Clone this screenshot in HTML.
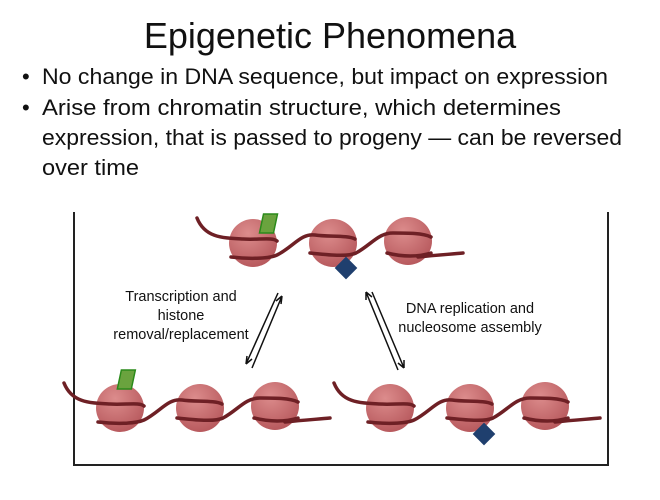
<!DOCTYPE html><html><head><style>
body{margin:0;background:#fff;width:660px;height:495px;overflow:hidden;font-family:"Liberation Sans",sans-serif}
</style></head><body>
<svg width="660" height="495" viewBox="0 0 660 495" xmlns="http://www.w3.org/2000/svg">
<defs>
<radialGradient id="g" cx="0.4" cy="0.3" r="0.7"><stop offset="0" stop-color="#dc8c8c"/><stop offset="1" stop-color="#b85a5e"/></radialGradient>
<g id="chain">
<circle cx="0" cy="0" r="24" fill="url(#g)"/>
<circle cx="80" cy="0" r="24" fill="url(#g)"/>
<circle cx="155" cy="-2" r="24" fill="url(#g)"/>
<g fill="none" stroke="#6e2025" stroke-width="3.5" stroke-linecap="round">
<path d="M-56,-25 C-48,-5 -30,-5 -10,-4 C5,-3 20,-6 24,-2"/>
<path d="M-22,14 C-5,16 15,16 24,12 C40,4 48,-10 62,-8 C75,-6 95,-8 102,-4"/>
<path d="M57,10 C75,12 95,14 103,10 C118,2 125,-10 140,-10 C155,-10 170,-10 178,-6"/>
<path d="M134,10 C150,14 165,14 178,10 M165,14 C185,12 200,11 210,10"/>
</g>
</g>
</defs>
<text x="330" y="48" font-size="36" text-anchor="middle" fill="#111">Epigenetic Phenomena</text>
<g font-size="22" fill="#111" lengthAdjust="spacingAndGlyphs">
<text x="22" y="84">•</text><text x="42" y="84" textLength="566" lengthAdjust="spacingAndGlyphs">No change in DNA sequence, but impact on expression</text>
<text x="22" y="115">•</text><text x="42" y="115" textLength="519" lengthAdjust="spacingAndGlyphs">Arise from chromatin structure, which determines</text>
<text x="42" y="145" textLength="580" lengthAdjust="spacingAndGlyphs">expression, that is passed to progeny — can be reversed</text>
<text x="42" y="175" textLength="97" lengthAdjust="spacingAndGlyphs">over time</text>
</g>
<path d="M74,212 V465 H608 V212" fill="none" stroke="#222" stroke-width="2"/>
<use href="#chain" x="253" y="243"/>
<use href="#chain" x="120" y="408"/>
<use href="#chain" x="390" y="408"/>
<rect x="259" y="214" width="14" height="19" fill="#6aa33e" stroke="#2a8a1a" stroke-width="1.5" transform="skewX(-12) translate(50,0)"/>
<rect x="120" y="370" width="14" height="19" fill="#6aa33e" stroke="#2a8a1a" stroke-width="1.5" transform="skewX(-12) translate(80,0)"/>
<rect x="338" y="260" width="16" height="16" fill="#1f3f6e" transform="rotate(45 346 268)"/>
<rect x="476" y="426" width="16" height="16" fill="#1f3f6e" transform="rotate(45 484 434)"/>
<g stroke="#111" stroke-width="1.5" fill="none">
<path d="M282,296 L252,368 M278,293 L246,364 M282,296 l-1,8 M282,296 l-6,5 M246,364 l1,-8 M246,364 l6,-5"/>
<path d="M366,292 L398,370 M372,292 L404,368 M366,292 l0,8 M366,292 l6,5 M404,368 l0,-8 M404,368 l-6,-5"/>
</g>
<g font-size="14.5" fill="#111" text-anchor="middle">
<text x="181" y="301">Transcription and</text>
<text x="181" y="320">histone</text>
<text x="181" y="339">removal/replacement</text>
<text x="470" y="313">DNA replication and</text>
<text x="470" y="332">nucleosome assembly</text>
</g>
</svg>
</body></html>
